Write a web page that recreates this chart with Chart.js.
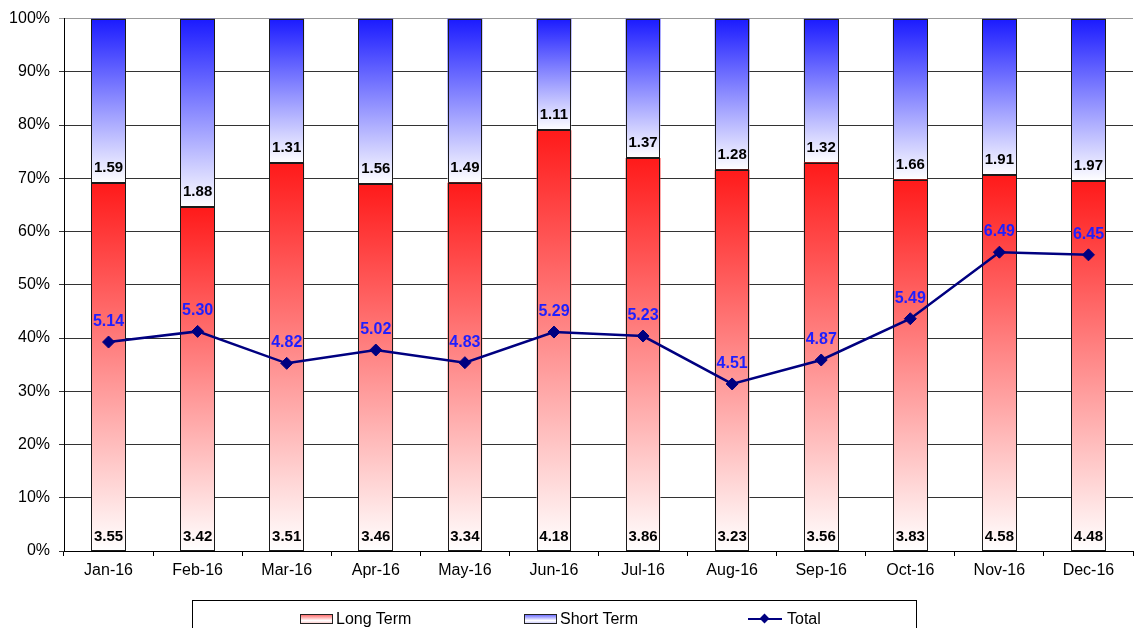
<!DOCTYPE html>
<html>
<head>
<meta charset="utf-8">
<script src="https://cdn.jsdelivr.net/npm/chart.js@4.4.0/dist/chart.umd.min.js"></script>
<style>
  html, body { margin: 0; padding: 0; background: #fff; overflow: hidden; }
  #wrap { position: relative; width: 1140px; height: 628px; }
  #legend {
    position: absolute; left: 192px; top: 600px; width: 725px; height: 40px;
    border: 1px solid #000; box-sizing: border-box;
    font-family: "Liberation Sans", Arial, sans-serif; font-size: 16px; color: #000;
  }
  .item { position: absolute; top: 9px; height: 18px; line-height: 18px; display: flex; align-items: center; }
  .swatch { width: 31px; height: 8px; border: 1px solid #222; margin-right: 3px; }
  .long { background: linear-gradient(to bottom, #ff7070, #ffffff 70%, #ffd0d0); }
  .short { background: linear-gradient(to bottom, #7070ff, #ffffff 70%, #d0d0ff); }
  .lineKey { position: relative; width: 34px; height: 18px; margin-right: 5px; }
  .lineKey::before { content: ""; position: absolute; left: 0; right: 0; top: 8px; height: 2px; background: #000080; }
  .lineKey::after { content: ""; position: absolute; left: 13px; top: 5px; width: 7px; height: 7px; background: #000080; transform: rotate(45deg); }
</style>
</head>
<body>
<div id="wrap">
  <canvas id="chart" width="1140" height="628"></canvas>
  <div id="legend">
    <div class="item" style="left:107px"><span class="swatch long"></span>Long Term</div>
    <div class="item" style="left:331px"><span class="swatch short"></span>Short Term</div>
    <div class="item" style="left:555px"><span class="lineKey"></span>Total</div>
  </div>
</div>
<script>
const months = ['Jan-16', 'Feb-16', 'Mar-16', 'Apr-16', 'May-16', 'Jun-16',
                'Jul-16', 'Aug-16', 'Sep-16', 'Oct-16', 'Nov-16', 'Dec-16'];
const longTerm = [3.55, 3.42, 3.51, 3.46, 3.34, 4.18, 3.86, 3.23, 3.56, 3.83, 4.58, 4.48];
const shortTerm = [1.59, 1.88, 1.31, 1.56, 1.49, 1.11, 1.37, 1.28, 1.32, 1.66, 1.91, 1.97];
const total = [5.14, 5.30, 4.82, 5.02, 4.83, 5.29, 5.23, 4.51, 4.87, 5.49, 6.49, 6.45];
const yTicks = [0, 10, 20, 30, 40, 50, 60, 70, 80, 90, 100];

// 100% stacked shares
const longPct = longTerm.map((v, i) => v / (v + shortTerm[i]) * 100);
const shortPct = shortTerm.map((v, i) => v / (longTerm[i] + v) * 100);

const FONT = '"Liberation Sans", Arial, sans-serif';

function barGradient(context, topColor) {
  const chart = context.chart;
  if (!chart.chartArea) return topColor;
  const y = chart.scales.y;
  const i = context.dataIndex;
  let top = 100, bottom = longPct[i];
  if (context.datasetIndex === 0) { top = longPct[i]; bottom = 0; }
  const g = chart.ctx.createLinearGradient(0, y.getPixelForValue(top), 0, y.getPixelForValue(bottom));
  g.addColorStop(0, topColor);
  g.addColorStop(1, '#ffffff');
  return g;
}

// crisp 1px outline round each bar segment
const barOutlines = {
  id: 'barOutlines',
  afterDatasetDraw(chart, args) {
    if (args.index > 1) return;
    const ctx = chart.ctx;
    ctx.save();
    ctx.strokeStyle = '#1a1a1a';
    ctx.lineWidth = 1;
    args.meta.data.forEach((bar) => {
      const p = bar.getProps(['x', 'y', 'base', 'width'], true);
      const l = Math.round(p.x - p.width / 2) + 0.5;
      const r = Math.round(p.x + p.width / 2) - 0.5;
      const t = Math.round(Math.min(p.y, p.base)) + 0.5;
      const b = Math.round(Math.max(p.y, p.base)) - 0.5;
      ctx.strokeRect(l, t, r - l, b - t);
    });
    ctx.restore();
  }
};

// value labels drawn on top of the bars / line
const valueLabels = {
  id: 'valueLabels',
  afterDatasetsDraw(chart) {
    const ctx = chart.ctx;
    const zero = chart.scales.y.getPixelForValue(0);
    ctx.save();
    ctx.textAlign = 'center';
    ctx.textBaseline = 'alphabetic';
    ctx.fillStyle = '#000';
    ctx.font = 'bold 15px ' + FONT;
    chart.getDatasetMeta(0).data.forEach((bar, i) => {
      ctx.fillText(longTerm[i].toFixed(2), bar.x, zero - 10.5);
    });
    chart.getDatasetMeta(1).data.forEach((bar, i) => {
      ctx.fillText(shortTerm[i].toFixed(2), bar.x, bar.base - 11);
    });
    ctx.fillStyle = '#1f1fff';
    ctx.font = 'bold 16px ' + FONT;
    chart.getDatasetMeta(2).data.forEach((pt, i) => {
      ctx.fillText(total[i].toFixed(2), pt.x, pt.y - 16);
    });
    ctx.restore();
  }
};

new Chart(document.getElementById('chart'), {
  type: 'bar',
  data: {
    labels: months,
    datasets: [
      {
        label: 'Long Term',
        data: longPct,
        order: 1,
        backgroundColor: (c) => barGradient(c, '#ff1a1a'),
        borderWidth: 0,
        barPercentage: 0.39,
        categoryPercentage: 1
      },
      {
        label: 'Short Term',
        data: shortPct,
        order: 1,
        backgroundColor: (c) => barGradient(c, '#1a1aff'),
        borderWidth: 0,
        barPercentage: 0.39,
        categoryPercentage: 1
      },
      {
        type: 'line',
        label: 'Total',
        data: total,
        yAxisID: 'y2',
        order: 0,
        borderColor: '#000080',
        borderWidth: 2.5,
        backgroundColor: '#000080',
        pointStyle: 'rectRot',
        pointRadius: 6,
        pointBackgroundColor: '#000080',
        pointBorderColor: '#000080',
        pointBorderWidth: 1,
        tension: 0
      }
    ]
  },
  options: {
    responsive: false,
    animation: false,
    layout: { padding: { top: 18, right: 0, left: 0, bottom: 0 } },
    plugins: {
      legend: { display: false },
      tooltip: { enabled: false }
    },
    scales: {
      x: {
        stacked: true,
        grid: { offset: true, drawOnChartArea: false, drawTicks: true, tickLength: 5, color: '#000' },
        border: { color: '#000', width: 1 },
        ticks: { color: '#000', font: { family: FONT, size: 16 }, padding: 5, maxRotation: 0 },
        afterFit: (s) => { s.height = 77; }
      },
      y: {
        stacked: true,
        min: 0,
        max: 100,
        afterBuildTicks: (s) => { s.ticks = yTicks.map(v => ({ value: v })); },
        grid: { color: (c) => c.tick && c.tick.value === 100 ? '#999' : '#333', tickLength: 5, lineWidth: 1 },
        border: { color: '#000', width: 1 },
        ticks: { color: '#000', font: { family: FONT, size: 16 }, padding: 9, callback: (v) => v + '%' },
        afterFit: (s) => { s.width = 64; }
      },
      y2: {
        display: false,
        min: 2,
        max: 10
      }
    }
  },
  plugins: [barOutlines, valueLabels]
});
</script>
</body>
</html>
